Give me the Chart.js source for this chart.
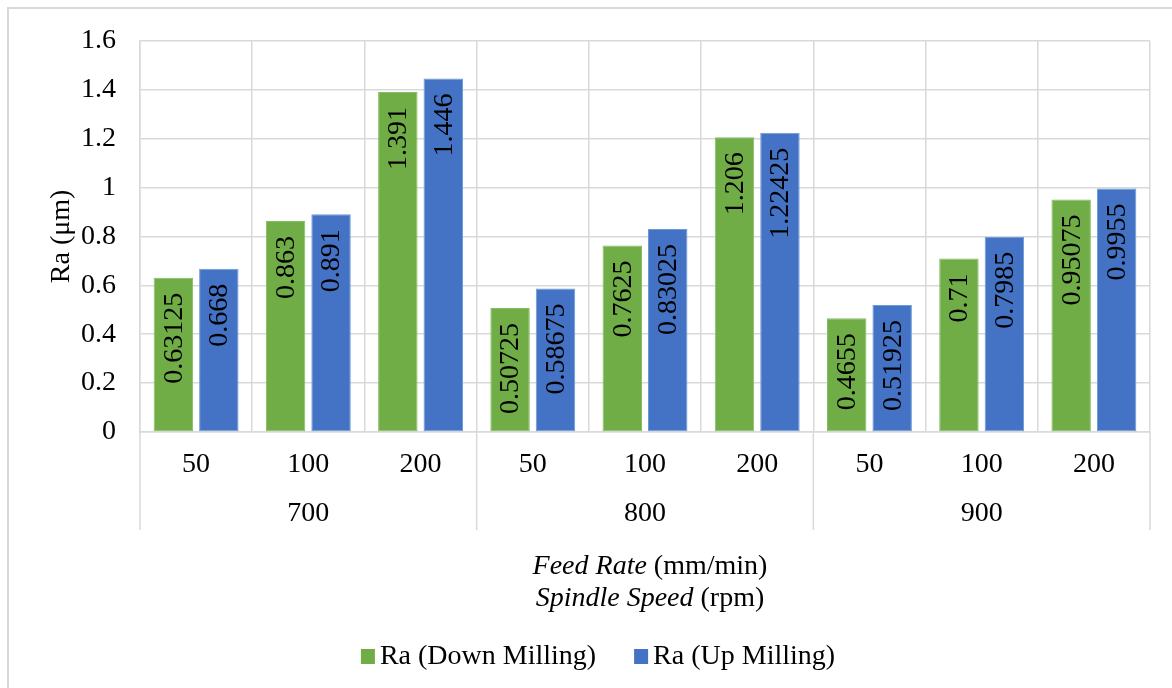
<!DOCTYPE html>
<html>
<head>
<meta charset="utf-8">
<script src="https://cdn.jsdelivr.net/npm/chart.js@4.4.1/dist/chart.umd.min.js"></script>
<style>
  html, body { margin: 0; padding: 0; background: #fff; }
  #wrap { position: relative; width: 1172px; height: 688px; overflow: hidden; }
  #frame { position: absolute; left: 7px; top: 7px; width: 1200px; height: 700px;
           border-left: 2px solid #d9d9d9; border-top: 2px solid #d9d9d9; box-sizing: border-box; }
  canvas { position: absolute; left: 0; top: 0; }
</style>
</head>
<body>
<div id="wrap">
  <div id="frame"></div>
  <canvas id="c" width="1172" height="688"></canvas>
</div>
<script>
const feedRates = ['50', '100', '200', '50', '100', '200', '50', '100', '200'];
const spindleSpeeds = ['700', '800', '900'];
const downMilling = [0.63125, 0.863, 1.391, 0.50725, 0.7625, 1.206, 0.4655, 0.71, 0.95075];
const upMilling = [0.668, 0.891, 1.446, 0.58675, 0.83025, 1.22425, 0.51925, 0.7985, 0.9955];
const yTicks = [0, 0.2, 0.4, 0.6, 0.8, 1, 1.2, 1.4, 1.6];
const seriesNames = ['Ra (Down Milling)', 'Ra (Up Milling)'];
const xTitleParts = [
  [['Feed Rate', true], [' (mm/min)', false]],
  [['Spindle Speed', true], [' (rpm)', false]]
];
const yTitle = 'Ra (μm)';

const FONT = "'Liberation Serif', 'Times New Roman', serif";
const FS = 28;
const GRID = '#d9d9d9';

const labelPlugin = {
  id: 'barLabels',
  afterDatasetsDraw(chart) {
    const ctx = chart.ctx;
    ctx.save();
    ctx.font = FS + 'px ' + FONT;
    ctx.fillStyle = '#000';
    ctx.textAlign = 'right';
    ctx.textBaseline = 'middle';
    chart.data.datasets.forEach((ds, di) => {
      const meta = chart.getDatasetMeta(di);
      meta.data.forEach((bar, i) => {
        ctx.save();
        ctx.translate(bar.x + 1, bar.y + 15);
        ctx.rotate(-Math.PI / 2);
        ctx.fillText(String(ds.data[i]), 0, 0);
        ctx.restore();
      });
    });
    ctx.restore();
  }
};

const axisExtrasPlugin = {
  id: 'axisExtras',
  afterDraw(chart) {
    const ctx = chart.ctx;
    const xs = chart.scales.x;
    const area = chart.chartArea;
    const n = feedRates.length;
    const per = n / spindleSpeeds.length;
    const step = (area.right - area.left) / n;
    ctx.save();
    // group separators
    ctx.strokeStyle = GRID;
    ctx.lineWidth = 1.5;
    for (let g = 0; g <= spindleSpeeds.length; g++) {
      const x = area.left + g * per * step;
      ctx.beginPath();
      ctx.moveTo(x, area.bottom);
      ctx.lineTo(x, area.bottom + 98);
      ctx.stroke();
    }
    // group labels
    ctx.fillStyle = '#000';
    ctx.font = FS + 'px ' + FONT;
    ctx.textAlign = 'center';
    ctx.textBaseline = 'middle';
    spindleSpeeds.forEach((s, g) => {
      const x0 = xs.getPixelForValue(g * per);
      const x1 = xs.getPixelForValue(g * per + per - 1);
      ctx.fillText(s, (x0 + x1) / 2, area.bottom + 82);
    });
    // axis title (two lines, mixed italic)
    const cx = (area.left + area.right) / 2 + 5;
    xTitleParts.forEach((parts, li) => {
      const y = area.bottom + 135 + li * 32;
      let widths = parts.map(p => {
        ctx.font = (p[1] ? 'italic ' : '') + FS + 'px ' + FONT;
        return ctx.measureText(p[0]).width;
      });
      const total = widths.reduce((a, b) => a + b, 0);
      let x = cx - total / 2;
      ctx.textAlign = 'left';
      parts.forEach((p, k) => {
        ctx.font = (p[1] ? 'italic ' : '') + FS + 'px ' + FONT;
        ctx.fillText(p[0], x, y);
        x += widths[k];
      });
    });
    // legend
    ctx.font = FS + 'px ' + FONT;
    const box = 14, gap = 5, itemGap = 38;
    const ds = chart.data.datasets;
    const tw = ds.map(d => ctx.measureText(d.label).width);
    const totalW = ds.reduce((a, d, i) => a + box + gap + tw[i], 0) + itemGap * (ds.length - 1);
    let lx = 598 - totalW / 2;
    const ly = 657;
    ds.forEach((d, i) => {
      ctx.fillStyle = d.backgroundColor;
      ctx.fillRect(lx, ly - 8, box, box + 1);
      ctx.fillStyle = '#000';
      ctx.textAlign = 'left';
      ctx.fillText(d.label, lx + box + gap, ly);
      lx += box + gap + tw[i] + itemGap;
    });
    ctx.restore();
  }
};

new Chart(document.getElementById('c'), {
  type: 'bar',
  data: {
    labels: feedRates,
    datasets: [
      { label: seriesNames[0], data: downMilling, backgroundColor: '#70AD47',
        borderColor: '#84bd60', borderWidth: 1, borderSkipped: false },
      { label: seriesNames[1], data: upMilling, backgroundColor: '#4472C4',
        borderColor: '#6a9ad8', borderWidth: 1, borderSkipped: false }
    ]
  },
  options: {
    responsive: false,
    animation: false,
    layout: { padding: { left: 40, right: 22, top: 37, bottom: 156 } },
    categoryPercentage: 0.81,
    barPercentage: 0.868,
    plugins: {
      legend: { display: false },
      tooltip: { enabled: false }
    },
    scales: {
      x: {
        grid: { color: GRID, lineWidth: 1.5, drawTicks: false, offset: true },
        border: { color: GRID, width: 1.5 },
        ticks: { color: '#000', font: { family: FONT, size: FS }, padding: 16, maxRotation: 0 },
        afterFit(scale) { scale.height = 100; }
      },
      y: {
        min: 0, max: 1.6,
        afterBuildTicks(scale) { scale.ticks = yTicks.map(v => ({ value: v })); },
        grid: { color: GRID, lineWidth: 1.5, drawTicks: false },
        border: { color: GRID, width: 1.5 },
        ticks: { color: '#000', font: { family: FONT, size: FS }, padding: 24,
                 callback: (v) => String(v) },
        title: { display: true, text: yTitle, color: '#000',
                 font: { family: FONT, size: FS }, padding: { top: 5, bottom: 0 } },
        afterFit(scale) { scale.width = 100; }
      }
    }
  },
  plugins: [labelPlugin, axisExtrasPlugin]
});
</script>
</body>
</html>
